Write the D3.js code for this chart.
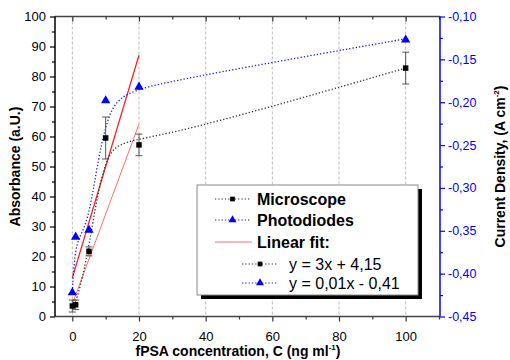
<!DOCTYPE html>
<html>
<head>
<meta charset="utf-8">
<script src="https://cdn.jsdelivr.net/npm/d3@7"></script>
<style>
  html, body { margin: 0; padding: 0; background: #fff; }
  svg { font-family: "Liberation Sans", Arial, sans-serif; display: block; }
</style>
</head>
<body>
<div id="container"></div>
<script>
// data
const concentrations = [0, 1, 5, 10, 20, 100];
const microscope = [3.5, 3.9, 21.7, 59.5, 57.2, 82.8];
const microscopeErr = [2.0, 1.6, 1.5, 7.0, 3.6, 5.3];
const photodiodes = [-0.421, -0.356, -0.348, -0.197, -0.181, -0.126];
const fitX = [0, 20];
const fitMicroscope = [4.15, 64.15];
const fitPhotodiodes = [-0.405, -0.145];
const xTicks = [0, 20, 40, 60, 80, 100];
const leftTicks = [0, 10, 20, 30, 40, 50, 60, 70, 80, 90, 100];
const rightTicks = [-0.45, -0.40, -0.35, -0.30, -0.25, -0.20, -0.15, -0.10];
const legendLabels = ["Microscope", "Photodiodes", "Linear fit:", "y = 3x + 4,15", "y = 0,01x - 0,41"];

const w = 510;
const h = 360;
const plotL = 55, plotR = 440, plotT = 16.5, plotB = 316.5;

const svg = d3.select("#container").append("svg")
  .attr("width", w).attr("height", h);

const xScale = d3.scaleLinear().domain([-5.2, 110.3]).range([plotL, plotR]);
const yLeft = d3.scaleLinear().domain([0, 100]).range([plotB, plotT]);
const yRight = d3.scaleLinear().domain([-0.45, -0.10]).range([plotB, plotT]);

const comma = d3.formatLocale({ decimal: ",", thousands: ".", grouping: [3], currency: ["", ""], minus: "-" });

// vertical dashed grid
svg.append("g").selectAll("line").data(xTicks).enter().append("line")
  .attr("x1", d => xScale(d)).attr("x2", d => xScale(d))
  .attr("y1", plotT).attr("y2", plotB)
  .attr("stroke", "#bdbdbd").attr("stroke-width", 1)
  .attr("stroke-dasharray", "3,2");

// minor ticks
const xMinor = d3.range(10, 111, 20);
const leftMinor = d3.range(5, 100, 10);
const rightMinor = d3.range(-0.425, -0.10, 0.05);

svg.append("g").attr("transform", `translate(0,${plotB})`)
  .call(d3.axisBottom(xScale).tickValues(xMinor).tickSize(3).tickFormat(""))
  .call(g => g.select(".domain").remove())
  .call(g => g.selectAll("line").attr("stroke", "#333").attr("stroke-width", 1.2));
svg.append("g").attr("transform", `translate(0,${plotT})`)
  .call(d3.axisBottom(xScale).tickValues(xMinor).tickSize(3).tickFormat(""))
  .call(g => g.select(".domain").remove())
  .call(g => g.selectAll("line").attr("stroke", "#333").attr("stroke-width", 1.2));
svg.append("g").attr("transform", `translate(0,${plotT})`)
  .call(d3.axisBottom(xScale).tickValues(xTicks).tickSize(5).tickFormat(""))
  .call(g => g.select(".domain").remove())
  .call(g => g.selectAll("line").attr("stroke", "#333").attr("stroke-width", 1.2));
svg.append("g").attr("transform", `translate(${plotL},0)`)
  .call(d3.axisLeft(yLeft).tickValues(leftMinor).tickSize(3).tickFormat(""))
  .call(g => g.select(".domain").remove())
  .call(g => g.selectAll("line").attr("stroke", "#000").attr("stroke-width", 1.2));
svg.append("g").attr("transform", `translate(${plotR},0)`)
  .call(d3.axisRight(yRight).tickValues(rightMinor).tickSize(3).tickFormat(""))
  .call(g => g.select(".domain").remove())
  .call(g => g.selectAll("line").attr("stroke", "#0000ff").attr("stroke-width", 1.2));

// main axes
const xAxis = svg.append("g").attr("transform", `translate(0,${plotB})`)
  .call(d3.axisBottom(xScale).tickValues(xTicks).tickSize(5).tickPadding(10));
xAxis.selectAll("text").attr("font-size", 13).attr("fill", "#000").attr("font-family", null);
xAxis.selectAll("line").attr("stroke", "#333").attr("stroke-width", 1.2);
xAxis.select(".domain").remove();

const lAxis = svg.append("g").attr("transform", `translate(${plotL},0)`)
  .call(d3.axisLeft(yLeft).tickValues(leftTicks).tickSize(5).tickPadding(4));
lAxis.selectAll("text").attr("font-size", 13).attr("fill", "#000").attr("font-family", null);
lAxis.selectAll("line").attr("stroke", "#000").attr("stroke-width", 1.2);
lAxis.select(".domain").remove();

const rAxis = svg.append("g").attr("transform", `translate(${plotR},0)`)
  .call(d3.axisRight(yRight).tickValues(rightTicks).tickSize(5).tickPadding(3)
    .tickFormat(comma.format(".2f")));
rAxis.selectAll("text").attr("font-size", 12.5).attr("fill", "#0000ff").attr("font-family", null);
rAxis.selectAll("line").attr("stroke", "#0000ff").attr("stroke-width", 1.2);
rAxis.select(".domain").remove();

// frame
svg.append("line").attr("x1", plotL).attr("x2", plotR).attr("y1", plotT).attr("y2", plotT)
  .attr("stroke", "#444").attr("stroke-width", 1.5);
svg.append("line").attr("x1", plotL).attr("x2", plotR).attr("y1", plotB).attr("y2", plotB)
  .attr("stroke", "#444").attr("stroke-width", 1.5);
svg.append("line").attr("x1", plotL).attr("x2", plotL).attr("y1", plotT).attr("y2", plotB)
  .attr("stroke", "#000").attr("stroke-width", 1.5);
svg.append("line").attr("x1", plotR).attr("x2", plotR).attr("y1", plotT).attr("y2", plotB)
  .attr("stroke", "#0000ff").attr("stroke-width", 1.5);

// linear fits
const fitLineL = d3.line().x((d, i) => xScale(fitX[i])).y(d => yLeft(d));
const fitLineR = d3.line().x((d, i) => xScale(fitX[i])).y(d => yRight(d));
svg.append("path").attr("d", fitLineL(fitMicroscope))
  .attr("fill", "none").attr("stroke", "#ff6f6f").attr("stroke-width", 1);
svg.append("path").attr("d", fitLineR(fitPhotodiodes))
  .attr("fill", "none").attr("stroke", "#ff1a1a").attr("stroke-width", 1.3);

// B-spline dotted connections
const curveL = d3.line().curve(d3.curveBasis).x((d, i) => xScale(concentrations[i])).y(d => yLeft(d));
const curveR = d3.line().curve(d3.curveBasis).x((d, i) => xScale(concentrations[i])).y(d => yRight(d));
svg.append("path").attr("d", curveL(microscope))
  .attr("fill", "none").attr("stroke", "#333").attr("stroke-width", 1.3)
  .attr("stroke-dasharray", "1.3,2");
svg.append("path").attr("d", curveR(photodiodes))
  .attr("fill", "none").attr("stroke", "#1a1aff").attr("stroke-width", 1.3)
  .attr("stroke-dasharray", "1.3,2");

// error bars
const err = svg.append("g").selectAll("g").data(microscope).enter().append("g")
  .attr("stroke", "#555").attr("stroke-width", 1);
err.append("line")
  .attr("x1", (d, i) => xScale(concentrations[i])).attr("x2", (d, i) => xScale(concentrations[i]))
  .attr("y1", (d, i) => yLeft(d + microscopeErr[i])).attr("y2", (d, i) => yLeft(d - microscopeErr[i]));
err.append("line")
  .attr("x1", (d, i) => xScale(concentrations[i]) - 3.5).attr("x2", (d, i) => xScale(concentrations[i]) + 3.5)
  .attr("y1", (d, i) => yLeft(d + microscopeErr[i])).attr("y2", (d, i) => yLeft(d + microscopeErr[i]));
err.append("line")
  .attr("x1", (d, i) => xScale(concentrations[i]) - 3.5).attr("x2", (d, i) => xScale(concentrations[i]) + 3.5)
  .attr("y1", (d, i) => yLeft(d - microscopeErr[i])).attr("y2", (d, i) => yLeft(d - microscopeErr[i]));

const squareSym = d3.symbol().type(d3.symbolSquare).size(30);
const triSym = d3.symbol().type(d3.symbolTriangle).size(38);

svg.append("g").selectAll("path").data(microscope).enter().append("path")
  .attr("d", squareSym)
  .attr("transform", (d, i) => `translate(${xScale(concentrations[i])},${yLeft(d)})`)
  .attr("fill", "#000");
svg.append("g").selectAll("path").data(photodiodes).enter().append("path")
  .attr("d", triSym)
  .attr("transform", (d, i) => `translate(${xScale(concentrations[i])},${yRight(d) + 1})`)
  .attr("fill", "#0000ff");

// legend
const lg = svg.append("g");
lg.append("rect").attr("x", 201).attr("y", 189).attr("width", 221).attr("height", 110).attr("fill", "#000");
lg.append("rect").attr("x", 197).attr("y", 185).attr("width", 221).attr("height", 110)
  .attr("fill", "#fff").attr("stroke", "#888").attr("stroke-width", 1);

const rowsY = [199, 220, 242, 264, 283];
const styles = [
  { x1: 215, x2: 250, color: "#333", dash: "1.3,2", sym: "sq", fill: "#000" },
  { x1: 215, x2: 250, color: "#1a1aff", dash: "1.3,2", sym: "tri", fill: "#0000ff" },
  { x1: 215, x2: 252, color: "#ff6f6f", dash: null, sym: null },
  { x1: 242, x2: 278, color: "#333", dash: "1.3,2", sym: "sq", fill: "#000" },
  { x1: 242, x2: 278, color: "#1a1aff", dash: "1.3,2", sym: "tri", fill: "#0000ff" }
];
legendLabels.forEach((label, i) => {
  const s = styles[i];
  const y = rowsY[i];
  lg.append("line").attr("x1", s.x1).attr("x2", s.x2).attr("y1", y).attr("y2", y)
    .attr("stroke", s.color).attr("stroke-width", 1.1).attr("stroke-dasharray", s.dash);
  if (s.sym) {
    const sym = s.sym === "sq" ? d3.symbol().type(d3.symbolSquare).size(22)
                               : d3.symbol().type(d3.symbolTriangle).size(28);
    lg.append("path").attr("d", sym)
      .attr("transform", `translate(${(s.x1 + s.x2) / 2},${y})`).attr("fill", s.fill);
  }
  lg.append("text")
    .attr("x", i < 3 ? 257 : 289).attr("y", y + 6)
    .attr("font-size", 16).attr("font-weight", i < 3 ? "bold" : "normal")
    .text(label);
});

// axis titles
const xt = svg.append("text").attr("x", 238).attr("y", 356)
  .attr("text-anchor", "middle").attr("font-size", 14).attr("font-weight", "bold");
xt.append("tspan").text("fPSA concentration, C (ng ml");
xt.append("tspan").attr("font-size", 8).attr("dy", -6).text("-1");
xt.append("tspan").attr("dy", 6).text(")");

svg.append("text")
  .attr("transform", `translate(20,${(plotT + plotB) / 2}) rotate(-90)`)
  .attr("text-anchor", "middle").attr("font-size", 14).attr("font-weight", "bold")
  .text("Absorbance (a.U.)");

const yt = svg.append("text")
  .attr("transform", `translate(505,${(plotT + plotB) / 2}) rotate(-90)`)
  .attr("text-anchor", "middle").attr("font-size", 14).attr("font-weight", "bold");
yt.append("tspan").text("Current Density, (A cm");
yt.append("tspan").attr("font-size", 8).attr("dy", -6).text("-2");
yt.append("tspan").attr("dy", 6).text(")");
</script>
</body>
</html>
